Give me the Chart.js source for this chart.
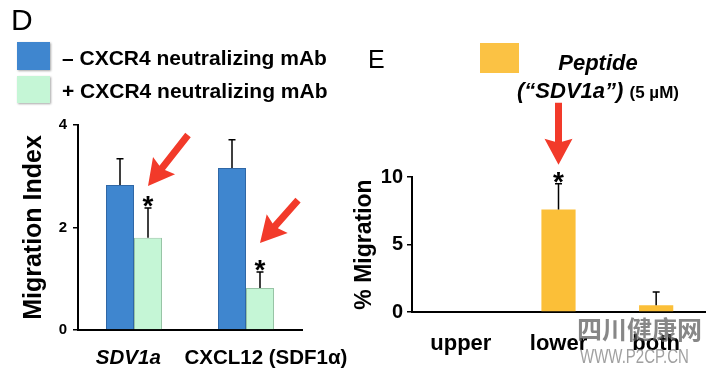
<!DOCTYPE html>
<html>
<head>
<meta charset="utf-8">
<script src="https://cdn.jsdelivr.net/npm/chart.js@4/dist/chart.umd.min.js"></script>
<style>
body { margin: 0; background: #fff; }
#wrap { position: relative; width: 720px; height: 377px; overflow: hidden; font-family: "Liberation Sans", Arial, sans-serif; color: #000; }
#wrap canvas { position: absolute; top: 0; }
.txt { position: absolute; white-space: nowrap; line-height: 1; }
.swatch { position: absolute; box-shadow: 1px 1px 2px rgba(0,0,0,0.35); }
.wm { position: absolute; white-space: nowrap; line-height: 1; color: rgba(95,95,95,0.75); }
</style>
</head>
<body>
<div id="wrap">
  <canvas id="left" width="390" height="377" style="left:0"></canvas>
  <canvas id="right" width="370" height="377" style="left:350px"></canvas>

  <div class="txt" style="left:11px;top:5px;font-size:30px">D</div>
  <div class="swatch" style="left:17px;top:42px;width:33px;height:28px;background:#3f86cf"></div>
  <div class="swatch" style="left:17px;top:76px;width:33px;height:27px;background:#c5f6d6"></div>
  <div class="txt" style="left:62px;top:47px;font-size:21px;font-weight:bold">– CXCR4 neutralizing mAb</div>
  <div class="txt" style="left:62px;top:80px;font-size:21px;font-weight:bold">+ CXCR4 neutralizing mAb</div>

  <div class="txt" style="left:368px;top:47px;font-size:25px">E</div>
  <div class="swatch" style="left:480px;top:43px;width:39px;height:30px;background:#fbc244;box-shadow:none"></div>
  <div class="txt" style="left:498px;width:200px;text-align:center;top:52px;font-size:22px;font-weight:bold;font-style:italic">Peptide</div>
  <div class="txt" style="left:498px;width:200px;text-align:center;top:80px;font-size:22px;font-weight:bold;font-style:italic">(“SDV1a”) <span style="font-style:normal;font-size:17px">(5 µM)</span></div>

  <div class="wm" style="left:577px;top:316px;font-size:25px;font-weight:bold;font-family:'Noto Sans CJK SC',sans-serif">四川健康网</div>
  <div class="wm" style="left:580px;top:346px;font-size:20px;transform:scaleX(0.75);transform-origin:left top;color:rgba(120,120,120,0.7)">WWW.P2CP.CN</div>
</div>

<script>
// panel D
const groupLabels = ["SDV1a", "CXCL12 (SDF1α)"];
const noAbValues = [2.83, 3.16];
const noAbErrors = [0.51, 0.55];
const withAbValues = [1.80, 0.82];
const withAbErrors = [0.58, 0.31];
const withAbStars = [true, true];
const leftTicks = [0, 2, 4];

// panel E
const siteLabels = ["upper", "lower", "both"];
const peptideValues = [0, 7.6, 0.5];
const peptideErrors = [0, 1.9, 0.98];
const peptideStars = [false, true, false];
const rightTicks = [0, 5, 10];

Chart.defaults.font.family = "'Liberation Sans', Arial, sans-serif";
Chart.defaults.color = "#000";

function drawArrow(ctx, x1, y1, x2, y2, shaft, headW, headL) {
    const a = Math.atan2(y2 - y1, x2 - x1);
    const len = Math.hypot(x2 - x1, y2 - y1);
    ctx.save();
    ctx.translate(x1, y1);
    ctx.rotate(a);
    ctx.fillStyle = "#f23a2a";
    ctx.beginPath();
    ctx.moveTo(0, -shaft / 2);
    ctx.lineTo(len - headL + 3, -shaft / 2);
    ctx.lineTo(len - headL, -headW / 2);
    ctx.lineTo(len, 0);
    ctx.lineTo(len - headL, headW / 2);
    ctx.lineTo(len - headL + 3, shaft / 2);
    ctx.lineTo(0, shaft / 2);
    ctx.closePath();
    ctx.fill();
    ctx.restore();
}

// error bars, stars and arrows, anchored on the bars
const marks = {
    id: "marks",
    afterDatasetsDraw(chart, args, opts) {
        const ctx = chart.ctx;
        const yScale = chart.scales.y;
        let starNo = 0;
        chart.data.datasets.forEach((ds, di) => {
            chart.getDatasetMeta(di).data.forEach((bar, i) => {
                const err = ds.errors[i];
                const top = yScale.getPixelForValue(ds.data[i] + err);
                if (err) {
                    ctx.save();
                    ctx.strokeStyle = "#000";
                    ctx.lineWidth = 1.5;
                    ctx.beginPath();
                    ctx.moveTo(bar.x, bar.y);
                    ctx.lineTo(bar.x, top);
                    ctx.moveTo(bar.x - 3.5, top);
                    ctx.lineTo(bar.x + 3.5, top);
                    ctx.stroke();
                    ctx.restore();
                }
                if (ds.stars && ds.stars[i]) {
                    ctx.save();
                    ctx.fillStyle = "#000";
                    ctx.font = "bold 28px 'Liberation Sans', Arial";
                    ctx.textAlign = "center";
                    ctx.textBaseline = "alphabetic";
                    ctx.fillText("*", bar.x, top + 7);
                    ctx.restore();
                    const ar = opts.arrows[starNo++];
                    if (ar) {
                        const tx = bar.x, ty = top - ar.gap;
                        drawArrow(ctx, tx + ar.dx, ty + ar.dy, tx, ty, 7, 28, 26);
                    }
                }
            });
        });
    }
};

new Chart(
    document.getElementById("left"),
    {
        type: "bar",
        data: {
            labels: groupLabels,
            datasets: [
                {
                    label: "– CXCR4 neutralizing mAb",
                    data: noAbValues,
                    errors: noAbErrors,
                    backgroundColor: "#3f86cf",
                    borderColor: "#2f67a6",
                    borderWidth: 1
                },
                {
                    label: "+ CXCR4 neutralizing mAb",
                    data: withAbValues,
                    errors: withAbErrors,
                    stars: withAbStars,
                    backgroundColor: "#c5f6d6",
                    borderColor: "#98c4a6",
                    borderWidth: 1
                }
            ]
        },
        options: {
            responsive: false,
            animation: false,
            categoryPercentage: 0.5,
            barPercentage: 1,
            layout: { padding: { left: 0, top: 125, right: 88, bottom: 0 } },
            plugins: {
                legend: { display: false },
                tooltip: { enabled: false },
                marks: {
                    arrows: [
                        { gap: 22, dx: 40, dy: -51 },
                        { gap: 29, dx: 38, dy: -43 }
                    ]
                }
            },
            scales: {
                x: {
                    grid: { display: false },
                    border: { color: "#000", width: 2 },
                    ticks: {
                        padding: 8,
                        color: "#000",
                        autoSkip: false,
                        maxRotation: 0,
                        minRotation: 0,
                        // labels in the figure sit a little off the group centres
                        callback: (v, i) => i === 0 ? groupLabels[i] + "  " : "       " + groupLabels[i],
                        font: (c) => ({ size: 20.5, weight: "bold", style: c.index === 0 ? "italic" : "normal" })
                    },
                    afterFit: (s) => { s.height = 47; }
                },
                y: {
                    min: leftTicks[0],
                    max: leftTicks[leftTicks.length - 1],
                    ticks: { stepSize: leftTicks[1] - leftTicks[0], padding: 6, color: "#000", font: { size: 15, weight: "bold" } },
                    grid: { drawOnChartArea: false, tickLength: 5, color: "#000", lineWidth: 1.5 },
                    border: { color: "#000", width: 2 },
                    title: { display: true, text: "Migration Index", color: "#000", font: { size: 25, weight: "bold" }, padding: { top: 19, bottom: 0 } },
                    afterFit: (s) => { s.width = 78; }
                }
            }
        },
        plugins: [marks]
    }
);

new Chart(
    document.getElementById("right"),
    {
        type: "bar",
        data: {
            labels: siteLabels,
            datasets: [
                {
                    label: "Peptide (SDV1a) 5 µM",
                    data: peptideValues,
                    errors: peptideErrors,
                    stars: peptideStars,
                    backgroundColor: "#fbbf38",
                    borderWidth: 0
                }
            ]
        },
        options: {
            responsive: false,
            animation: false,
            categoryPercentage: 0.35,
            barPercentage: 1,
            layout: { padding: { left: 0, top: 177, right: 15, bottom: 0 } },
            plugins: {
                legend: { display: false },
                tooltip: { enabled: false },
                marks: {
                    arrows: [
                        { gap: 19, dx: 0, dy: -62 }
                    ]
                }
            },
            scales: {
                x: {
                    grid: { display: false },
                    border: { color: "#000", width: 2 },
                    ticks: { padding: 11, color: "#000", autoSkip: false, maxRotation: 0, minRotation: 0, font: { size: 22, weight: "bold" } },
                    afterFit: (s) => { s.height = 65; }
                },
                y: {
                    min: rightTicks[0],
                    max: rightTicks[rightTicks.length - 1],
                    ticks: { stepSize: rightTicks[1] - rightTicks[0], padding: 4, color: "#000", font: { size: 20, weight: "bold" } },
                    grid: { drawOnChartArea: false, tickLength: 5, color: "#000", lineWidth: 1.5 },
                    border: { color: "#000", width: 2 },
                    title: { display: true, text: "% Migration", color: "#000", font: { size: 23, weight: "bold" }, padding: { top: 1, bottom: 0 } },
                    afterFit: (s) => { s.width = 62; }
                }
            }
        },
        plugins: [marks]
    }
);
</script>
</body>
</html>
